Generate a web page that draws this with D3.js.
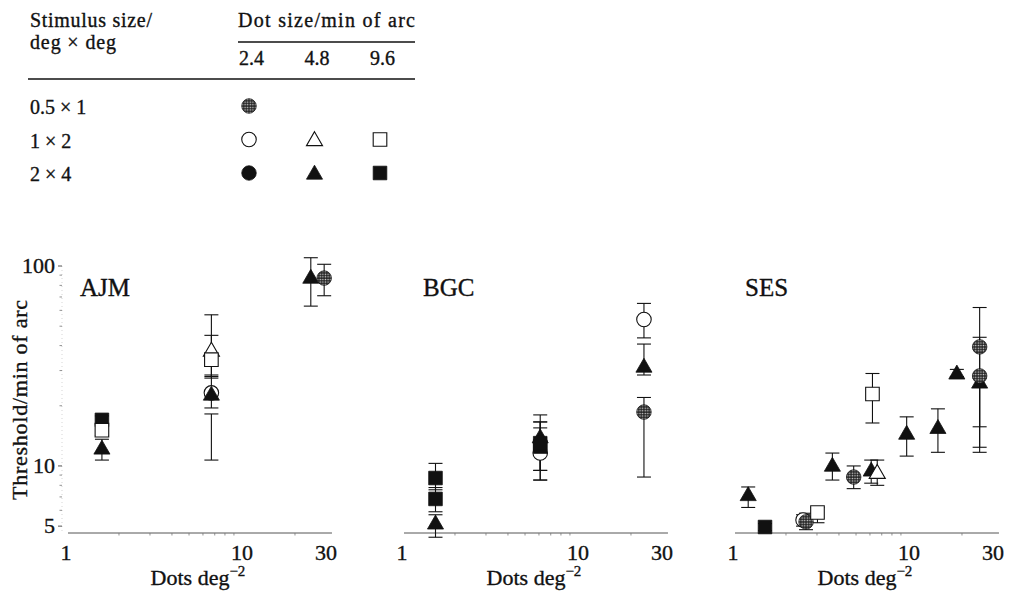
<!DOCTYPE html>
<html>
<head>
<meta charset="utf-8">
<script src="https://cdn.jsdelivr.net/npm/d3@7"></script>
<style>
  html, body { margin: 0; padding: 0; background: #fff; }
  svg { display: block; }
</style>
</head>
<body>
<svg id="chart" width="1011" height="591"></svg>
<script>
// ---------------- DATA ----------------
const panelNames = ["AJM", "BGC", "SES"];
const xTickValues = [1, 10, 30];
const xTickLabels = ["1", "10", "30"];
const yTickValues = [100, 10, 5];
const yTickLabels = ["100", "10", "5"];
const stimulusSizes = ["0.5 × 1", "1 × 2", "2 × 4"];
const dotSizes = ["2.4", "4.8", "9.6"];
// legend cells: [stimulus index, dot-size index]
const legendCells = [[0, 0], [1, 0], [1, 1], [1, 2], [2, 0], [2, 1], [2, 2]];

// condition codes: stimulus size (s05, s1, s2) + dot size (d24, d48, d96)
const ajmDensity   = [1.6, 1.6, 1.6, 6.7, 6.7, 6.7, 6.7, 24.6, 29.3];
const ajmThreshold = [17.0, 15.1, 12.3, 38, 34, 23.2, 22.9, 88, 87];
const ajmLow       = [16.2, 14.2, 10.7, 27.5, 28, 19.5, 10.7, 63, 71];
const ajmHigh      = [17.8, 16.2, 13.6, 57, 45, 28.5, 18.2, 110, 102];
const ajmCondition = ["s2d96", "s1d96", "s2d48", "s1d48", "s1d96", "s1d24", "s2d48", "s2d48", "s05d24"];

const bgcDensity   = [1.55, 1.55, 1.55, 6.1, 6.1, 6.1, 6.1, 23.7, 23.7, 23.7];
const bgcThreshold = [8.7, 6.84, 5.19, 14, 11.6, 12.5, 13.0, 54, 31.6, 18.6];
const bgcLow       = [7.6, 5.9, 4.4, 9.5, 8.5, 9.5, 8.5, 43.7, 28.5, 8.8];
const bgcHigh      = [10.3, 7.8, 5.7, 18, 16.6, 16.6, 15.5, 65, 40.7, 22];
const bgcCondition = ["s2d96", "s2d96", "s2d48", "s2d48", "s1d24", "s2d96", "s2d96", "s1d24", "s2d48", "s05d24"];

const sesDensity   = [1.22, 1.52, 2.5, 2.6, 3.02, 3.67, 4.85, 6.2, 6.1, 6.6, 9.7, 14.6, 18.7, 25.2, 25.2, 25.2];
const sesThreshold = [7.2, 4.95, 5.37, 5.25, 5.85, 10.1, 8.8, 22.9, 9.55, 9.3, 14.6, 15.6, 29.2, 26.3, 39.4, 28.2];
const sesLow       = [6.2, 4.75, 5.0, 4.8, 5.2, 8.5, 7.7, 16.4, 8.2, 8.0, 11.2, 11.7, 28.0, 11.7, 15.7, 12.4];
const sesHigh      = [7.85, 5.15, 5.7, 5.8, 6.2, 11.6, 10, 29, 10.7, 10.7, 17.6, 19.3, 30.4, 27.5, 62, 44];
const sesCondition = ["s2d48", "s2d96", "s1d24", "s05d24", "s1d96", "s2d48", "s05d24", "s1d96", "s2d48", "s1d48", "s2d48", "s2d48", "s2d48", "s2d48", "s05d24", "s05d24"];

// ---------------- LAYOUT ----------------
const svg = d3.select("#chart");
const INK = "#111";
const panelOrigins = [66, 402, 733];
const decade = 176;
const yScale = d3.scaleLog().domain([4.62, 100]).range([533, 266]);

function txt(g, x, y, size, s) {
  const t = g.append("text").attr("x", x).attr("y", y)
    .style("font-family", '"Liberation Serif"').style("font-size", size + "px")
    .style("fill", INK).style("stroke", INK).style("stroke-width", "0.35px");
  if (s !== null) t.text(s);
  return t;
}

const defs = svg.append("defs");
const pat = defs.append("pattern").attr("id", "shade")
  .attr("patternUnits", "userSpaceOnUse").attr("width", 2.6).attr("height", 2.6);
pat.append("rect").attr("width", 2.6).attr("height", 2.6).attr("fill", "#262626");
pat.append("circle").attr("cx", 1.3).attr("cy", 1.3).attr("r", 0.75).attr("fill", "#e0e0e0");

const shapeOf = { d24: d3.symbolCircle, d48: d3.symbolTriangle, d96: d3.symbolSquare };
const sizeOf = { d24: 165, d48: 112, d96: 185 };
function fillOf(code) {
  if (code.startsWith("s05")) return "url(#shade)";
  if (code.startsWith("s1d")) return "#fff";
  return INK;
}
function drawMarker(g, code, x, y) {
  const d = code.slice(-3);
  const off = d === "d48" ? 1.5 : 0;
  g.append("path")
    .attr("d", d3.symbol().type(shapeOf[d]).size(sizeOf[d])())
    .attr("transform", `translate(${x},${y + off})`)
    .attr("fill", fillOf(code))
    .attr("stroke", INK)
    .attr("stroke-width", code.startsWith("s1d") ? 1.1 : 0.8);
}

// ---------------- LEGEND ----------------
const leg = svg.append("g");
txt(leg, 30, 27, 20, "Stimulus size/").attr("textLength", 122);
txt(leg, 30, 49, 20, "deg × deg").attr("textLength", 86);
txt(leg, 238, 27, 20, "Dot size/min of arc").attr("textLength", 177);
leg.append("line").attr("x1", 238).attr("x2", 415).attr("y1", 42).attr("y2", 42).attr("stroke", INK).attr("stroke-width", 1.3);
const colX = d3.scalePoint().domain(dotSizes).range([249, 380]);
const rowY = d3.scalePoint().domain(stimulusSizes).range([106, 173]);
dotSizes.forEach(d => txt(leg, colX(d) - 10, 65, 20, d));
leg.append("line").attr("x1", 28).attr("x2", 415).attr("y1", 79).attr("y2", 79).attr("stroke", INK).attr("stroke-width", 1.5);
stimulusSizes.forEach(d => txt(leg, 30, rowY(d) + 8, 20, d));
const sCodes = ["s05", "s1", "s2"], dCodes = ["d24", "d48", "d96"];
legendCells.forEach(([si, di]) => {
  drawMarker(leg, sCodes[si] + dCodes[di], colX(dotSizes[di]), rowY(stimulusSizes[si]));
});

// ---------------- PANELS ----------------
const panelData = [
  [ajmDensity, ajmThreshold, ajmLow, ajmHigh, ajmCondition],
  [bgcDensity, bgcThreshold, bgcLow, bgcHigh, bgcCondition],
  [sesDensity, sesThreshold, sesLow, sesHigh, sesCondition]
];

panelNames.forEach((name, pi) => {
  const x0 = panelOrigins[pi];
  const xScale = d3.scaleLog().domain([1, 30]).range([x0, x0 + decade * Math.log10(30)]);
  const g = svg.append("g");

  // x axis line
  g.append("line").attr("x1", xScale(1) + 2).attr("x2", xScale(30) + 6)
    .attr("y1", 533).attr("y2", 533).attr("stroke", "#555").attr("stroke-width", 1);
  const minor = [2, 3, 4, 5, 6, 7, 8, 9, 20];
  g.selectAll("line.xminor").data(minor).join("line").attr("class", "xminor")
    .attr("x1", d => xScale(d)).attr("x2", d => xScale(d))
    .attr("y1", 533).attr("y2", 535.5).attr("stroke", "#777").attr("stroke-width", 0.8);
  xTickValues.forEach((d, i) => txt(g, xScale(d), 560, 22, xTickLabels[i]).attr("text-anchor", "middle"));

  // x title
  const cx = (xScale(1) + xScale(30)) / 2 + 2;
  const xt = txt(g, cx, 585, 22, null).attr("text-anchor", "middle");
  xt.append("tspan").text("Dots deg");
  xt.append("tspan").attr("dy", -9).style("font-size", "15px").text("−2");

  // panel title
  txt(g, x0 + [14, 21, 12][pi], 296, 25, name);

  // data
  const [dens, thr, lo, hi, cond] = panelData[pi];
  dens.forEach((dv, i) => {
    const x = xScale(dv);
    g.append("line").attr("x1", x).attr("x2", x).attr("y1", yScale(lo[i])).attr("y2", yScale(hi[i]))
      .attr("stroke", INK).attr("stroke-width", 1.1);
    [lo[i], hi[i]].forEach(v => {
      g.append("line").attr("x1", x - 7).attr("x2", x + 7).attr("y1", yScale(v)).attr("y2", yScale(v))
        .attr("stroke", INK).attr("stroke-width", 1.1);
    });
  });
  dens.forEach((dv, i) => {
    drawMarker(g, cond[i], xScale(dv), yScale(thr[i]));
  });
});

// y axis (first panel only)
const ya = svg.append("g");
ya.append("line").attr("x1", 62).attr("x2", 62).attr("y1", 266).attr("y2", 533)
  .attr("stroke", "#bbb").attr("stroke-width", 0.6).attr("stroke-dasharray", "1,3");
const yMinor = [6, 7, 8, 9, 20, 30, 40, 50, 60, 70, 80, 90];
ya.selectAll("line.ym").data(yMinor).join("line").attr("class", "ym")
  .attr("x1", 59.5).attr("x2", 62).attr("y1", d => yScale(d)).attr("y2", d => yScale(d))
  .attr("stroke", "#777").attr("stroke-width", 0.8);
ya.selectAll("line.yM").data(yTickValues).join("line").attr("class", "yM")
  .attr("x1", 58).attr("x2", 62).attr("y1", d => yScale(d)).attr("y2", d => yScale(d))
  .attr("stroke", "#555").attr("stroke-width", 1);
yTickValues.forEach((d, i) => txt(ya, 55, yScale(d) + 7, 22, yTickLabels[i]).attr("text-anchor", "end"));
txt(ya, 0, 0, 22, "Threshold/min of arc").attr("transform", "translate(27,400) rotate(-90)")
  .attr("text-anchor", "middle").attr("textLength", 200);
</script>
</body>
</html>
